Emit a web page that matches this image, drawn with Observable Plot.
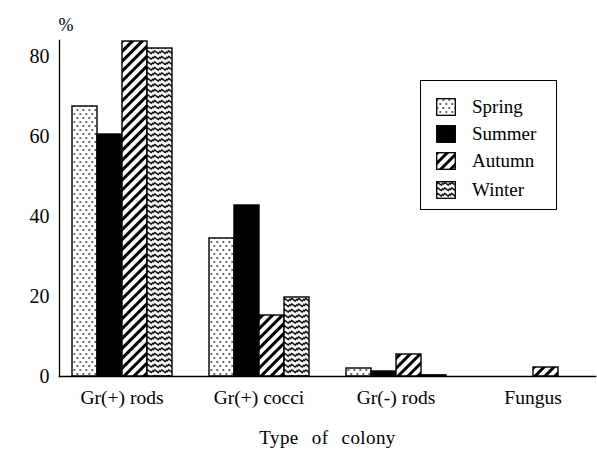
<!DOCTYPE html>
<html><head><meta charset="utf-8">
<script src="https://cdn.jsdelivr.net/npm/d3@7"></script>
<script src="https://cdn.jsdelivr.net/npm/@observablehq/plot@0.6"></script>
<style>
body{margin:0;background:#fff;}
#wrap{position:relative;width:597px;height:451px;}
#wrap svg.plot text{word-spacing:8px;}
#legend{position:absolute;left:420px;top:80px;width:137px;height:130px;border:1.5px solid #000;box-sizing:border-box;background:#fff;font-family:"Liberation Serif","Times New Roman",serif;}
.item{position:absolute;left:15px;height:18px;display:flex;align-items:center;font-size:19px;color:#000;font-family:"Liberation Serif","Times New Roman",serif;}
.item svg{margin-right:16px;display:block}
</style></head>
<body>
<svg width="0" height="0" style="position:absolute">
  <defs>
    <pattern id="p-spring" patternUnits="userSpaceOnUse" width="6" height="8">
      <rect width="6" height="8" fill="#fff"/>
      <path d="M0.6,0.9 L2.9,2 L0.6,3.1 Z M3.6,4.9 L5.9,6 L3.6,7.1 Z" fill="#000"/>
    </pattern>
    <pattern id="p-autumn" patternUnits="userSpaceOnUse" width="7" height="7" patternTransform="rotate(45)">
      <rect width="7" height="7" fill="#fff"/>
      <rect width="3" height="7" fill="#000"/>
    </pattern>
    <pattern id="p-winter" patternUnits="userSpaceOnUse" width="7" height="5.5">
      <rect width="7" height="5.5" fill="#fff"/>
      <path d="M-0.5,4 L1.75,1.5 L5.25,4 L7.5,1.5" stroke="#000" stroke-width="1.4" fill="none"/>
    </pattern>
  </defs>
</svg>
<div id="wrap"></div>
<script>
const colonies = ["Gr(+) rods", "Gr(+) cocci", "Gr(-) rods", "Fungus"];
const seasons = ["Spring", "Summer", "Autumn", "Winter"];
const spring = [67.5, 34.5, 2, 0];
const summer = [60.5, 42.75, 1.25, 0];
const autumn = [83.75, 15.25, 5.5, 2.25];
const winter = [82, 19.75, 0.3, 0];
const yTicks = [0, 20, 40, 60, 80];
const fills = ["url(#p-spring)", "#000", "url(#p-autumn)", "url(#p-winter)"];

const series = [spring, summer, autumn, winter];
const data = [];
colonies.forEach((c, i) => seasons.forEach((s, j) => data.push({colony: c, season: s, value: series[j][i]})));

const serif = "'Liberation Serif','Times New Roman',serif";
const chart = Plot.plot({
  width: 597,
  height: 451,
  marginTop: 40,
  marginBottom: 75,
  marginLeft: 58,
  marginRight: 0,
  style: {fontFamily: serif, fontSize: "19.5px", color: "#000", background: "#fff"},
  fx: {domain: colonies, paddingInner: 0.26, paddingOuter: 0.087},
  x: {domain: seasons, padding: 0, axis: null},
  y: {domain: [0, 84]},
  color: {domain: seasons, range: fills},
  marks: [
    Plot.barY(data, {fx: "colony", x: "season", y: "value", fill: "season", stroke: "#000", strokeWidth: 1.4}),
    Plot.frame({anchor: "bottom", facet: "super", stroke: "#000", strokeWidth: 1.6, insetLeft: -12, insetRight: -12}),
    Plot.frame({anchor: "left", facet: "super", stroke: "#000", strokeWidth: 1.3, dx: -12}),
    Plot.axisY({ticks: yTicks, tickSize: 0, tickPadding: 22, fontSize: 20, label: null}),
    Plot.text(["%"], {frameAnchor: "top-left", facet: "super", dx: -13, dy: -22, textAnchor: "start", fontSize: 18}),
    Plot.axisFx({anchor: "bottom", tickSize: 0, tickPadding: 14, label: "Type of colony", labelAnchor: "center", labelOffset: 67, labelArrow: "none"})
  ]
});
document.getElementById("wrap").appendChild(chart);
// spacing of the axis title as in the printed figure
chart.querySelectorAll("text").forEach(t => { if (t.textContent === "Type of colony") { t.style.fontSize = "19px"; t.style.letterSpacing = "0.4px"; t.style.wordSpacing = "8px"; } });

const legend = document.createElement("div");
legend.id = "legend";
const tops = [17, 44, 71, 100];
seasons.forEach((s, j) => {
  const it = document.createElement("div");
  it.className = "item";
  it.style.top = tops[j] + "px";
  it.innerHTML = `<svg width="20" height="18"><rect x="0.7" y="0.7" width="18.6" height="16.6" fill="${fills[j]}" stroke="#000" stroke-width="1.3"/></svg><span>${s}</span>`;
  legend.appendChild(it);
});
document.getElementById("wrap").appendChild(legend);
</script>
</body></html>
